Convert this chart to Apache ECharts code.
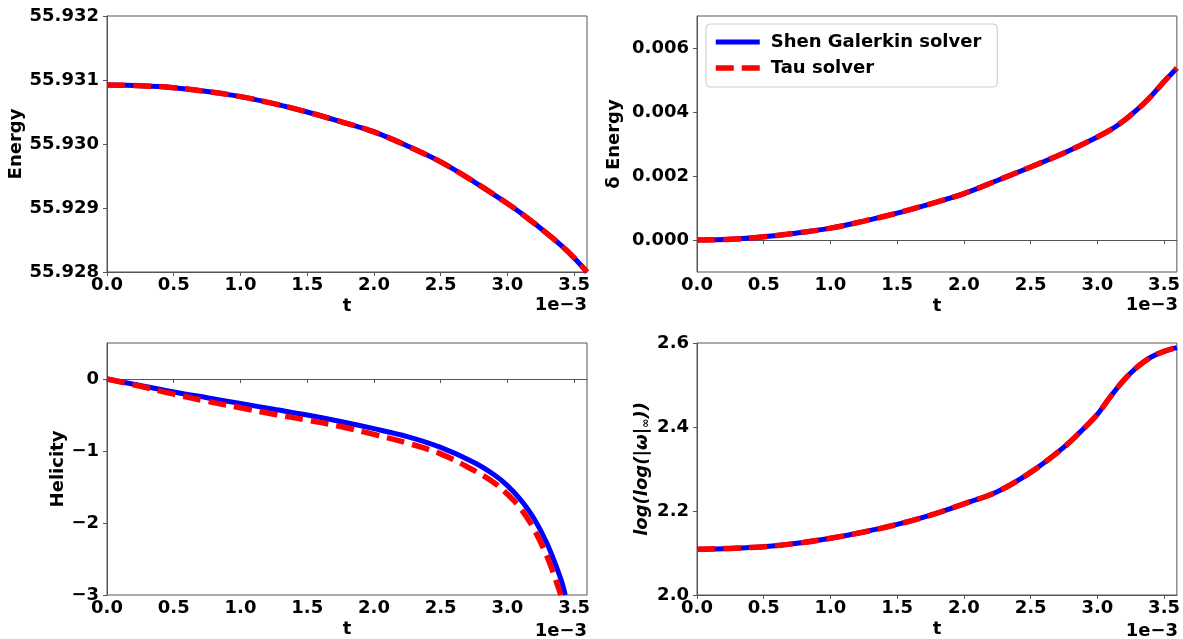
<!DOCTYPE html>
<html><head><meta charset="utf-8">
<script src="https://cdn.jsdelivr.net/npm/echarts@6/dist/echarts.min.js"></script>
<style>html,body{margin:0;padding:0;background:#fff}#c{width:1183px;height:639px}</style>
</head><body><div id="c"></div>
<script>
// time in units of 1e-3
const tEnergy = [0, 0.25, 0.5, 0.75, 1.0, 1.25, 1.5, 1.75, 2.0, 2.25, 2.5, 2.75, 3.0, 3.1, 3.25, 3.4, 3.5, 3.596];
const energy = [55.93092, 55.93091, 55.93088, 55.93082, 55.93074, 55.93063, 55.93050, 55.93035, 55.93019, 55.92997, 55.92972, 55.92941, 55.92907, 55.92892, 55.92868, 55.92842, 55.92822, 55.92800];

const tDelta = [0, 0.25, 0.5, 0.75, 1.0, 1.25, 1.5, 1.75, 2.0, 2.25, 2.5, 2.75, 3.0, 3.15, 3.3, 3.4, 3.5, 3.596];
const deltaEnergy = [0, 0.00002, 0.00010, 0.00022, 0.00037, 0.00059, 0.00084, 0.00113, 0.00145, 0.00186, 0.00228, 0.00272, 0.00322, 0.00358, 0.00408, 0.00448, 0.00495, 0.00537];

const tHelBlue = [0, 0.25, 0.5, 0.75, 1.0, 1.25, 1.5, 1.75, 2.0, 2.25, 2.5, 2.75, 2.9, 3.0, 3.1, 3.2, 3.3, 3.4, 3.433];
const helicityShen = [0, -0.09, -0.18, -0.26, -0.34, -0.42, -0.50, -0.59, -0.69, -0.80, -0.95, -1.16, -1.33, -1.48, -1.68, -1.94, -2.30, -2.78, -3.0];
const tHelRed = [0, 0.25, 0.5, 0.75, 1.0, 1.25, 1.5, 1.75, 2.0, 2.25, 2.5, 2.75, 2.9, 3.0, 3.1, 3.2, 3.3, 3.4];
const helicityTau = [0, -0.10, -0.21, -0.31, -0.40, -0.49, -0.57, -0.66, -0.77, -0.89, -1.04, -1.27, -1.44, -1.60, -1.80, -2.09, -2.48, -3.0];

const tOmega = [0, 0.25, 0.5, 0.75, 1.0, 1.25, 1.5, 1.75, 2.0, 2.25, 2.5, 2.75, 2.9, 3.0, 3.1, 3.2, 3.3, 3.4, 3.5, 3.596];
const logLogOmega = [2.109, 2.111, 2.115, 2.123, 2.135, 2.150, 2.168, 2.190, 2.217, 2.246, 2.292, 2.352, 2.397, 2.430, 2.473, 2.512, 2.543, 2.566, 2.580, 2.589];

const xTicks = [0, 0.5, 1.0, 1.5, 2.0, 2.5, 3.0, 3.5];
const energyTicks = [55.928, 55.929, 55.930, 55.931, 55.932];
const deltaTicks = [0, 0.002, 0.004, 0.006];
const helTicks = [-3, -2, -1, 0];
const omegaTicks = [2.0, 2.2, 2.4, 2.6];

const FONT = 'DejaVu Sans';
const axisCol = '#555';
function zip(a, b) { return a.map((v, i) => [v, b[i]]); }

const grids = [
  {left: 107, top: 16, width: 480, height: 256},
  {left: 697, top: 16, width: 481, height: 256},
  {left: 107, top: 343, width: 480, height: 255},
  {left: 697, top: 343, width: 481, height: 255}
].map(g => Object.assign(g, {show: true, borderColor: axisCol, borderWidth: 1, backgroundColor: '#fff'}));

function xAxis(i) {
  return {
    type: 'value', gridIndex: i, min: 0, max: 3.596,
    name: 't', nameLocation: 'middle', nameGap: 25,
    nameTextStyle: {fontFamily: FONT, fontWeight: 'bold', fontSize: 18, color: '#000'},
    axisLine: {lineStyle: {color: axisCol, width: 1}},
    axisTick: {show: true, length: 4, lineStyle: {color: axisCol}, customValues: xTicks},
    axisLabel: {customValues: xTicks, margin: 4, fontFamily: FONT, fontWeight: 'bold', fontSize: 18, color: '#000',
      formatter: v => v.toFixed(1)},
    splitLine: {show: false}
  };
}
function yAxis(i, min, max, ticks, fmt, name, gap) {
  return {
    type: 'value', gridIndex: i, min: min, max: max,
    name: name, nameLocation: 'middle', nameGap: gap, nameRotate: 90,
    nameTextStyle: {fontFamily: FONT, fontWeight: 'bold', fontSize: 18, color: '#000',
      rich: {a: {fontFamily: FONT, fontWeight: 'bold', fontStyle: 'italic', fontSize: 18, color: '#000'},
             b: {fontFamily: FONT, fontWeight: 'bold', fontStyle: 'italic', fontSize: 11, color: '#000', padding: [8, 0, 0, 0]}}},
    axisLine: {lineStyle: {color: axisCol, width: 1}},
    axisTick: {show: true, length: 4, lineStyle: {color: axisCol}, customValues: ticks},
    axisLabel: {customValues: ticks, margin: 8, fontFamily: FONT, fontWeight: 'bold', fontSize: 18, color: '#000', formatter: fmt},
    splitLine: {show: false}
  };
}

const blueStyle = {color: '#0000ff', width: 5};
const redStyle = {color: '#ff0000', width: 5.5, type: [18, 8]};
function ser(name, i, data, style, z) {
  return {name: name, type: 'line', xAxisIndex: i, yAxisIndex: i, data: data, symbol: 'none', showSymbol: false,
    smooth: 0.35, lineStyle: style, itemStyle: {color: style.color}, z: z, animation: false,
    clip: true};
}

const option = {
  animation: false,
  grid: grids,
  xAxis: [xAxis(0), xAxis(1), xAxis(2), xAxis(3)],
  yAxis: [
    yAxis(0, 55.928, 55.932, energyTicks, v => v.toFixed(3), 'Energy', 81),
    yAxis(1, -0.001, 0.007, deltaTicks, v => v.toFixed(3), 'δ Energy', 74),
    yAxis(2, -3, 0.5, helTicks, v => v === 0 ? '0' : '\u2212' + Math.abs(v), 'Helicity', 40),
    yAxis(3, 2.0, 2.6, omegaTicks, v => v.toFixed(1), '{a|log(log(|ω|}{b|∞}{a|))}', 45)
  ],
  legend: {
    show: true, orient: 'vertical', left: 706, top: 24,
    data: ['Shen Galerkin solver', 'Tau solver'],
    itemWidth: 44, itemHeight: 14, itemGap: 6,
    padding: [8, 16, 9, 7],
    backgroundColor: 'rgba(255,255,255,0.8)', borderColor: '#ccc', borderWidth: 1, borderRadius: 4,
    textStyle: {fontFamily: FONT, fontWeight: 'bold', fontSize: 18, color: '#000', lineHeight: 20, padding: [0, 0, 0, 6]},
    lineStyle: {width: 'inherit', type: 'inherit'},
    itemStyle: {opacity: 0}
  },
  graphic: [
    {type: 'text', right: 1183 - 587, top: 296, style: {text: '1e\u22123', font: 'bold 18px "DejaVu Sans"', fill: '#000'}},
    {type: 'text', right: 5, top: 296, style: {text: '1e\u22123', font: 'bold 18px "DejaVu Sans"', fill: '#000'}},
    {type: 'text', right: 1183 - 587, top: 622, style: {text: '1e\u22123', font: 'bold 18px "DejaVu Sans"', fill: '#000'}},
    {type: 'text', right: 5, top: 622, style: {text: '1e\u22123', font: 'bold 18px "DejaVu Sans"', fill: '#000'}}
  ],
  series: [
    ser('Shen Galerkin solver', 0, zip(tEnergy, energy), blueStyle, 2),
    ser('Tau solver', 0, zip(tEnergy, energy), redStyle, 3),
    ser('Shen Galerkin solver', 1, zip(tDelta, deltaEnergy), blueStyle, 2),
    ser('Tau solver', 1, zip(tDelta, deltaEnergy), redStyle, 3),
    ser('Shen Galerkin solver', 2, zip(tHelBlue, helicityShen), blueStyle, 2),
    ser('Tau solver', 2, zip(tHelRed, helicityTau), redStyle, 3),
    ser('Shen Galerkin solver', 3, zip(tOmega, logLogOmega), blueStyle, 2),
    ser('Tau solver', 3, zip(tOmega, logLogOmega), redStyle, 3)
  ]
};
const chart = echarts.init(document.getElementById('c'), null, {renderer: 'canvas'});
chart.setOption(option);
</script></body></html>
